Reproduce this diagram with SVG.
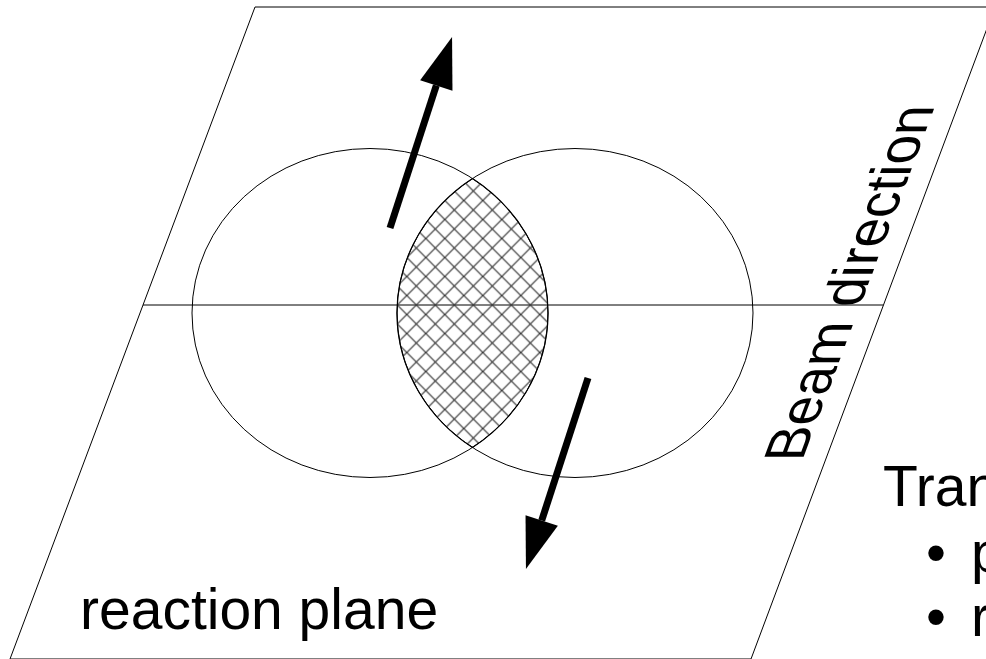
<svg xmlns="http://www.w3.org/2000/svg" width="986" height="659" viewBox="0 0 986 659">
<style>
.ln{fill:none;stroke:#000;stroke-width:1}
.txt{font-family:"Liberation Sans",Arial,sans-serif;font-size:57px;fill:#000}
.arrow{stroke:#000;stroke-width:7;fill:none;stroke-linecap:butt}
</style>
<defs>
<pattern id="hatch" patternUnits="userSpaceOnUse" x="7.8" y="10.5" width="19" height="19">
<path d="M0,0L19,19M19,0L0,19M-1,18L1,20M18,-1L20,1" stroke="#333" stroke-width="1.2" fill="none"/>
</pattern>
<marker id="head" markerUnits="userSpaceOnUse" markerWidth="60" markerHeight="40" refX="0" refY="20" orient="auto" overflow="visible">
<path d="M0,3L51,20L0,37Z" fill="#000"/>
</marker>
</defs>
<rect width="986" height="659" fill="#fff"/>
<g id="plane">
<path class="ln" d="M255,7L995,7L751,659L10,659Z"/>
<path class="ln" d="M143,305L883.3,305" stroke="#333" stroke-width="1.2"/>
</g>
<g id="nucleus-left"><ellipse class="ln" cx="370" cy="313" rx="178" ry="164.5"/></g>
<g id="nucleus-right"><ellipse class="ln" cx="575" cy="313" rx="178" ry="164.5"/></g>
<g id="overlap">
<path d="M472.5,178.5A178,164.5 0 0 0 472.5,447.5A178,164.5 0 0 0 472.5,178.5Z" fill="url(#hatch)" stroke="#000" stroke-width="1.2"/>
</g>
<g id="connectors">
<path class="arrow" d="M390,228L436.3,85.5" marker-end="url(#head)"/>
<path class="arrow" d="M588,378L541.7,520.5" marker-end="url(#head)"/>
</g>
<g id="labels">
<text class="txt" font-size="58" x="80" y="629">reaction plane</text>
<text class="txt" font-size="63" transform="matrix(0.351,-0.936,1,0,802,461)" x="0" y="0">Beam direction</text>
<text class="txt" x="883" y="506">Tran</text>
<text class="txt" x="926" y="572">•</text>
<text class="txt" x="971" y="572">p</text>
<text class="txt" x="926" y="636">•</text>
<text class="txt" x="971" y="636">r</text>
</g>
</svg>
